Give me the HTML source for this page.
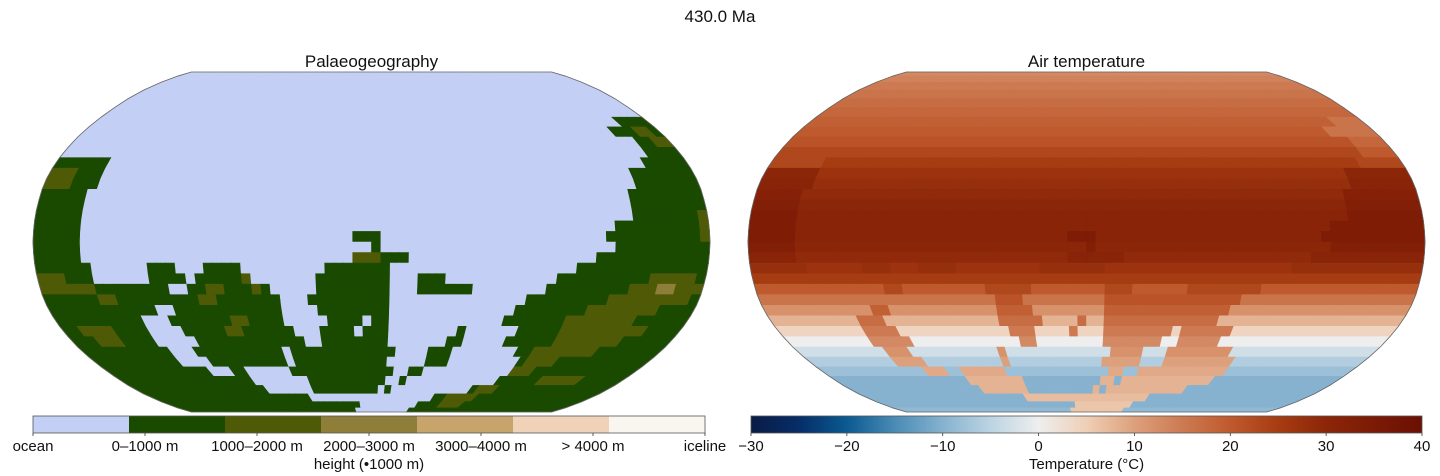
<!DOCTYPE html>
<html><head><meta charset="utf-8">
<style>
body{margin:0;background:#fff;width:1440px;height:476px;overflow:hidden;font-family:"Liberation Sans",sans-serif;}
svg{display:block}
text{font-family:"Liberation Sans",sans-serif;fill:#111}
</style></head>
<body>
<svg id="fig" width="1440" height="476" viewBox="0 0 1440 476">
  <text x="720" y="22" font-size="17" text-anchor="middle">430.0 Ma</text>
  <text x="371.5" y="67" font-size="17" text-anchor="middle">Palaeogeography</text>
  <text x="1086.5" y="67" font-size="17" text-anchor="middle">Air temperature</text>
  <g id="mapL"></g>
  <g id="mapR"></g>
  <g id="cbL"></g>
  <g id="cbR"></g>
</svg>
<script>
// ---- data ----
const bandTops = [90,85,80,75,70,65,60,55,50,45,40,35,30,25,20,15,10,5,0,-5,-10,-15,-20,-25,-30,-35,-40,-45,-50,-55,-60,-65,-70,-75,-80,-85];
// land segments: [bandTop, lonStart, lonEnd, heightCode]
const landSegs = [
 [60,160,180,1],
 [55,150,180,1],[55,165,175,2],
 [50,158,180,1],[50,168,178,2],
 [45,160,180,1],
 [40,-180,-152,1],[40,155,180,1],
 [35,-180,-150,1],[35,-178,-165,2],[35,147,180,1],
 [30,-180,-150,1],[30,-178,-165,2],[30,-172,-168,3],[30,143,180,1],
 [25,-180,-153,1],[25,142,180,1],
 [20,-180,-153,1],[20,142,180,1],
 [15,-180,-155,1],[15,140,180,1],[15,175,180,2],
 [10,-180,-155,1],[10,132,180,1],[10,175,180,2],
 [5,-180,-155,1],[5,-10,5,1],[5,125,180,1],[5,175,180,2],
 [0,-180,-155,1],[0,0,5,1],[0,128,180,1],
 [-5,-180,-153,1],[-5,-10,20,1],[-5,-10,5,2],[-5,120,180,1],
 [-10,-180,-152,1],[-10,-122,-107,1],[-10,-92,-70,1],[-10,-25,12,1],[-10,110,180,1],
 [-15,-180,-150,1],[-15,-178,-165,2],[-15,-120,-100,1],[-15,-95,-65,1],[-15,-70,-65,2],[-15,-28,12,1],[-15,27,42,1],[-15,100,180,1],[-15,150,175,2],
 [-20,-180,-110,1],[-20,-180,-150,2],[-20,-100,-55,1],[-20,-90,-80,2],[-20,-65,-60,2],[-20,-30,12,1],[-20,27,42,1],[-20,42,55,1],[-20,95,180,1],[-20,140,178,2],[-20,155,165,3],
 [-25,-180,-48,1],[-25,-150,-140,2],[-25,-95,-85,2],[-25,-35,12,1],[-25,85,180,1],[-25,130,175,2],
 [-30,-180,-120,1],[-30,-112,-50,1],[-30,-30,12,1],[-30,80,180,1],[-30,120,160,2],
 [-35,-180,-128,1],[-35,-115,-52,1],[-35,-80,-70,2],[-35,-25,-5,1],[-35,0,12,1],[-35,75,180,1],[-35,110,150,2],
 [-40,-180,-131,1],[-40,-170,-150,2],[-40,-110,-45,1],[-40,-85,-75,2],[-40,-29,-10,1],[-40,-3,12,1],[-40,48,55,1],[-40,87,180,1],[-40,110,160,2],
 [-45,-180,-128,1],[-45,-165,-150,2],[-45,-105,-42,1],[-45,-30,12,1],[-45,45,55,1],[-45,80,180,1],[-45,110,150,2],
 [-50,-180,-126,1],[-50,-109,-55,1],[-50,-48,13,1],[-50,35,49,1],[-50,91,180,1],[-50,100,140,2],
 [-55,-180,-125,1],[-55,-105,-54,1],[-55,-50,12,1],[-55,33,51,1],[-55,95,180,1],[-55,100,120,2],
 [-60,-180,-108,1],[-60,-97,-84,1],[-60,-56,13,1],[-60,25,34,1],[-60,94,180,1],[-60,95,110,2],
 [-65,-180,-86,1],[-65,-43,12,1],[-65,20,26,1],[-65,92,180,1],[-65,120,150,2],
 [-70,-180,-81,1],[-70,-45,7,1],[-70,12,17,1],[-70,77,180,1],[-70,78,95,2],
 [-75,-180,-48,1],[-75,50,180,1],[-75,60,85,2],
 [-80,-180,-12,1],[-80,40,180,1],[-80,60,80,2],
 [-85,-180,-15,1],[-85,35,180,1]
];
// ocean zonal temperature (°C) per band, north to south
const oceanTemp = [13,14,15,16,17,18,19,20,21,23,25,27,28,29,30,31,31,31,30,29,27,25,23,21,19,17,15,13,12,10,9,8,8,7,6,6];
// land temperature anomaly per band
const landAnom = [0,0,0,0,0,0,-3,-4,-3,-3,-2,3,3,3,3,3,3,3,3,2,1,0,-3,-5,-7,-9,-11,-13,-15,-16,-17,-18,-18,-17,-16,-15];
const heightColors = ['#c3cff4','#1a4a00','#4f5a06','#8f7e3a','#c6a46b','#efd2b8','#f8f6ee'];
const heightLabels = ['ocean','0–1000 m','1000–2000 m','2000–3000 m','3000–4000 m','> 4000 m','iceline'];
const tempTicks = [-30,-20,-10,0,10,20,30,40];
const tempStops = [[-30,'#0a1c45'],[-25,'#062d68'],[-20,'#0b5a91'],[-15,'#4a8bb5'],[-10,'#86b2cf'],[-5,'#bcd4e3'],[0,'#eeeeee'],[5,'#efcfb6'],[10,'#dda07c'],[15,'#cd7a52'],[20,'#bf5a2e'],[25,'#a63c12'],[30,'#8c2608'],[35,'#7c1a06'],[40,'#6b1004']];

// ---- projection (Robinson) ----
const PLEN=[1,0.9986,0.9954,0.99,0.9822,0.973,0.96,0.9427,0.9216,0.8962,0.8679,0.835,0.7986,0.7597,0.7186,0.6732,0.6213,0.5722,0.5322];
const PDFE=[0,0.062,0.124,0.186,0.248,0.31,0.372,0.434,0.4958,0.5571,0.6176,0.6769,0.7346,0.7903,0.8435,0.8936,0.9394,0.9761,1];
const HW=338.5, HH=170, CY=242;
function interp(t,a){const f=Math.min(Math.abs(a)/5,18);const i=Math.floor(f),r=f-i;return i>=18?t[18]:t[i]+(t[i+1]-t[i])*r;}
function proj(cx,lon,lat){return [cx+HW*interp(PLEN,lat)*lon/180, CY-Math.sign(lat)*HH*interp(PDFE,lat)];}
const NS='http://www.w3.org/2000/svg';
function mk(tag,attrs,parent){const e=document.createElementNS(NS,tag);for(const k in attrs)e.setAttribute(k,attrs[k]);parent.appendChild(e);return e;}

// land grid
const land = bandTops.map(()=>new Array(72).fill(0));
for(const s of landSegs){
  const r=bandTops.indexOf(s[0]);
  for(let c=0;c<72;c++){const lon=-177.5+5*c;if(lon>=s[1]&&lon<=s[2])land[r][c]=Math.max(land[r][c],s[3]);}
}
function tColor(t){
  t=Math.max(-30,Math.min(40,t));
  for(let i=0;i<tempStops.length-1;i++){if(t<=tempStops[i+1][0]){const a=tempStops[i],b=tempStops[i+1];const r=(t-a[0])/(b[0]-a[0]);
    const ca=parseInt(a[1].slice(1),16),cb=parseInt(b[1].slice(1),16);
    const ch=s=>Math.round(((ca>>s)&255)*(1-r)+((cb>>s)&255)*r);
    return `rgb(${ch(16)},${ch(8)},${ch(0)})`;}}
  return tempStops[tempStops.length-1][1];
}
function drawMap(g,cx,colorFn,name){
  for(let r=0;r<bandTops.length;r++){
    const la=bandTops[r],lb=la-5;
    for(let c=0;c<72;c++){
      const lo=-180+5*c,lo2=lo+5;
      const p=[proj(cx,lo,la),proj(cx,lo2,la),proj(cx,lo2,lb),proj(cx,lo,lb)];
      const col=colorFn(r,c);
      const el=mk('polygon',{points:p.map(q=>q[0].toFixed(2)+','+q[1].toFixed(2)).join(' '),fill:col,stroke:col,'stroke-width':0.6},g);
      
      
    }
  }
  // outline
  let pts=[];
  for(let la=90;la>=-90;la-=5)pts.push(proj(cx,180,la));
  for(let la=-90;la<=90;la+=5)pts.push(proj(cx,-180,la));
  const o=mk('polygon',{points:pts.map(q=>q[0].toFixed(2)+','+q[1].toFixed(2)).join(' '),fill:'none',stroke:'#666','stroke-width':0.8},g);
  
  
}
drawMap(document.getElementById('mapL'),371.5,(r,c)=>heightColors[land[r][c]],'palaeogeography');
drawMap(document.getElementById('mapR'),1086.5,(r,c)=>tColor(oceanTemp[r]+(land[r][c]?landAnom[r]:0)),'temperature');

// left colorbar
const gL=document.getElementById('cbL');
const x0=33,x1=705,segW=(x1-x0)/heightColors.length;
heightColors.forEach((col,i)=>{
  const e=mk('rect',{x:x0+i*segW,y:416,width:segW+0.5,height:17,fill:col},gL);
  
  
});
mk('rect',{x:x0,y:416,width:x1-x0,height:17,fill:'none',stroke:'#555','stroke-width':0.8},gL);
heightLabels.forEach((lab,i)=>{
  const x=x0+i*(x1-x0)/(heightLabels.length-1);
  mk('line',{x1:x,x2:x,y1:433,y2:436,stroke:'#333','stroke-width':0.8},gL);
  const t=mk('text',{x:x,y:451,'font-size':15,'text-anchor':'middle'},gL);t.textContent=lab;
  
  
});
const hl=mk('text',{x:369,y:469,'font-size':15,'text-anchor':'middle'},gL);hl.textContent='height (•1000 m)';



// right colorbar
const gR=document.getElementById('cbR');
const rx0=751,rx1=1422;
const defs=mk('defs',{},gR);
const lg=mk('linearGradient',{id:'tg',x1:0,x2:1,y1:0,y2:0},defs);
tempStops.forEach(s=>mk('stop',{offset:((s[0]+30)/70).toFixed(4),'stop-color':s[1]},lg));
const tb=mk('rect',{x:rx0,y:416,width:rx1-rx0,height:17,fill:'url(#tg)',stroke:'#555','stroke-width':0.8},gR);


tempTicks.forEach(v=>{
  const x=rx0+(v+30)/70*(rx1-rx0);
  mk('line',{x1:x,x2:x,y1:433,y2:436,stroke:'#333','stroke-width':0.8},gR);
  const t=mk('text',{x:x,y:451,'font-size':15,'text-anchor':'middle'},gR);t.textContent=(v<0?'−'+(-v):v);
  
  
});
const tl=mk('text',{x:1086.5,y:469,'font-size':15,'text-anchor':'middle'},gR);tl.textContent='Temperature (°C)';


</script>
</body></html>
